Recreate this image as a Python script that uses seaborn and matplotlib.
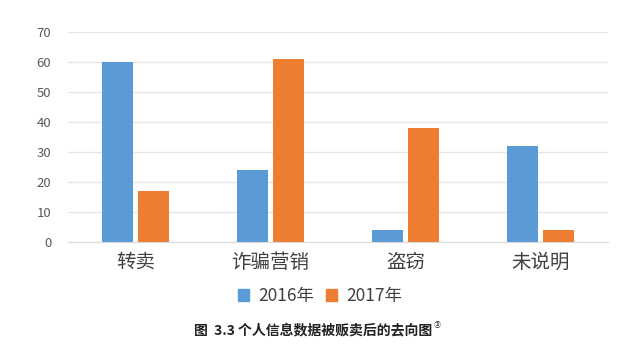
import pandas as pd
import matplotlib
matplotlib.use("Agg")
import matplotlib.pyplot as plt
import seaborn as sns

# ---------------------------------------------------------
#                 DATA
# ---------------------------------------------------------

categories = ["转卖", "诈骗营销", "盗窃", "未说明"]
values_2016 = [60, 24, 4, 32]
values_2017 = [17, 61, 38, 4]
series_names = ["2016年", "2017年"]
y_ticks = [0, 10, 20, 30, 40, 50, 60, 70]

df = pd.DataFrame({
    "类别": categories * 2,
    "数量": values_2016 + values_2017,
    "年份": [series_names[0]] * len(categories) + [series_names[1]] * len(categories),
})

# ---------------------------------------------------------
#                 STYLE
# ---------------------------------------------------------

sns.set_style("white")
plt.rcParams["font.family"] = ["Noto Sans CJK SC", "DejaVu Sans"]

palette = {"2016年": "#5B9BD5", "2017年": "#ED7D31"}

fig = plt.figure(figsize=(6.4, 3.62), dpi=100)
ax = fig.add_axes([0.106, 0.331, 0.844, 0.581])

sns.barplot(
    data=df, x="类别", y="数量", hue="年份",
    palette=palette, width=0.53, gap=0.14,
    saturation=1, legend=False, linewidth=0, ax=ax,
)

ax.set_ylim(0, 70)
ax.set_xlim(-0.5, 3.5)
ax.set_yticks(y_ticks)
ax.yaxis.grid(True, color="#e6e6e6", linewidth=1)
ax.set_axisbelow(True)
for side in ["left", "right", "top"]:
    ax.spines[side].set_visible(False)
ax.spines["bottom"].set_color("#d9d9d9")
ax.tick_params(axis="y", length=0, labelsize=9.5, labelcolor="#595959", pad=12)
ax.tick_params(axis="x", length=0, labelsize=14, labelcolor="#404040", pad=7)
ax.set_xlabel("")
ax.set_ylabel("")

# legend
handles = [plt.Rectangle((0, 0), 1, 1, color=palette[n]) for n in series_names]
fig.legend(handles, series_names, loc="center", bbox_to_anchor=(0.5, 0.182),
           ncol=2, frameon=False, fontsize=12.5, handlelength=0.65, handleheight=0.65,
           columnspacing=0.7, handletextpad=0.5, labelcolor="#404040")

# caption with small superscript mark
cap = fig.text(0.49, 0.086, "图  3.3 个人信息数据被贩卖后的去向图", ha="center", va="center",
               fontsize=10, fontweight="bold", color="#222222")
ax.annotate("③", xy=(1, 1), xycoords=cap, xytext=(1, 2), textcoords="offset points",
            fontsize=5, fontweight="bold", color="#222222", ha="left", va="top")

fig.savefig("out.png", dpi=100)
